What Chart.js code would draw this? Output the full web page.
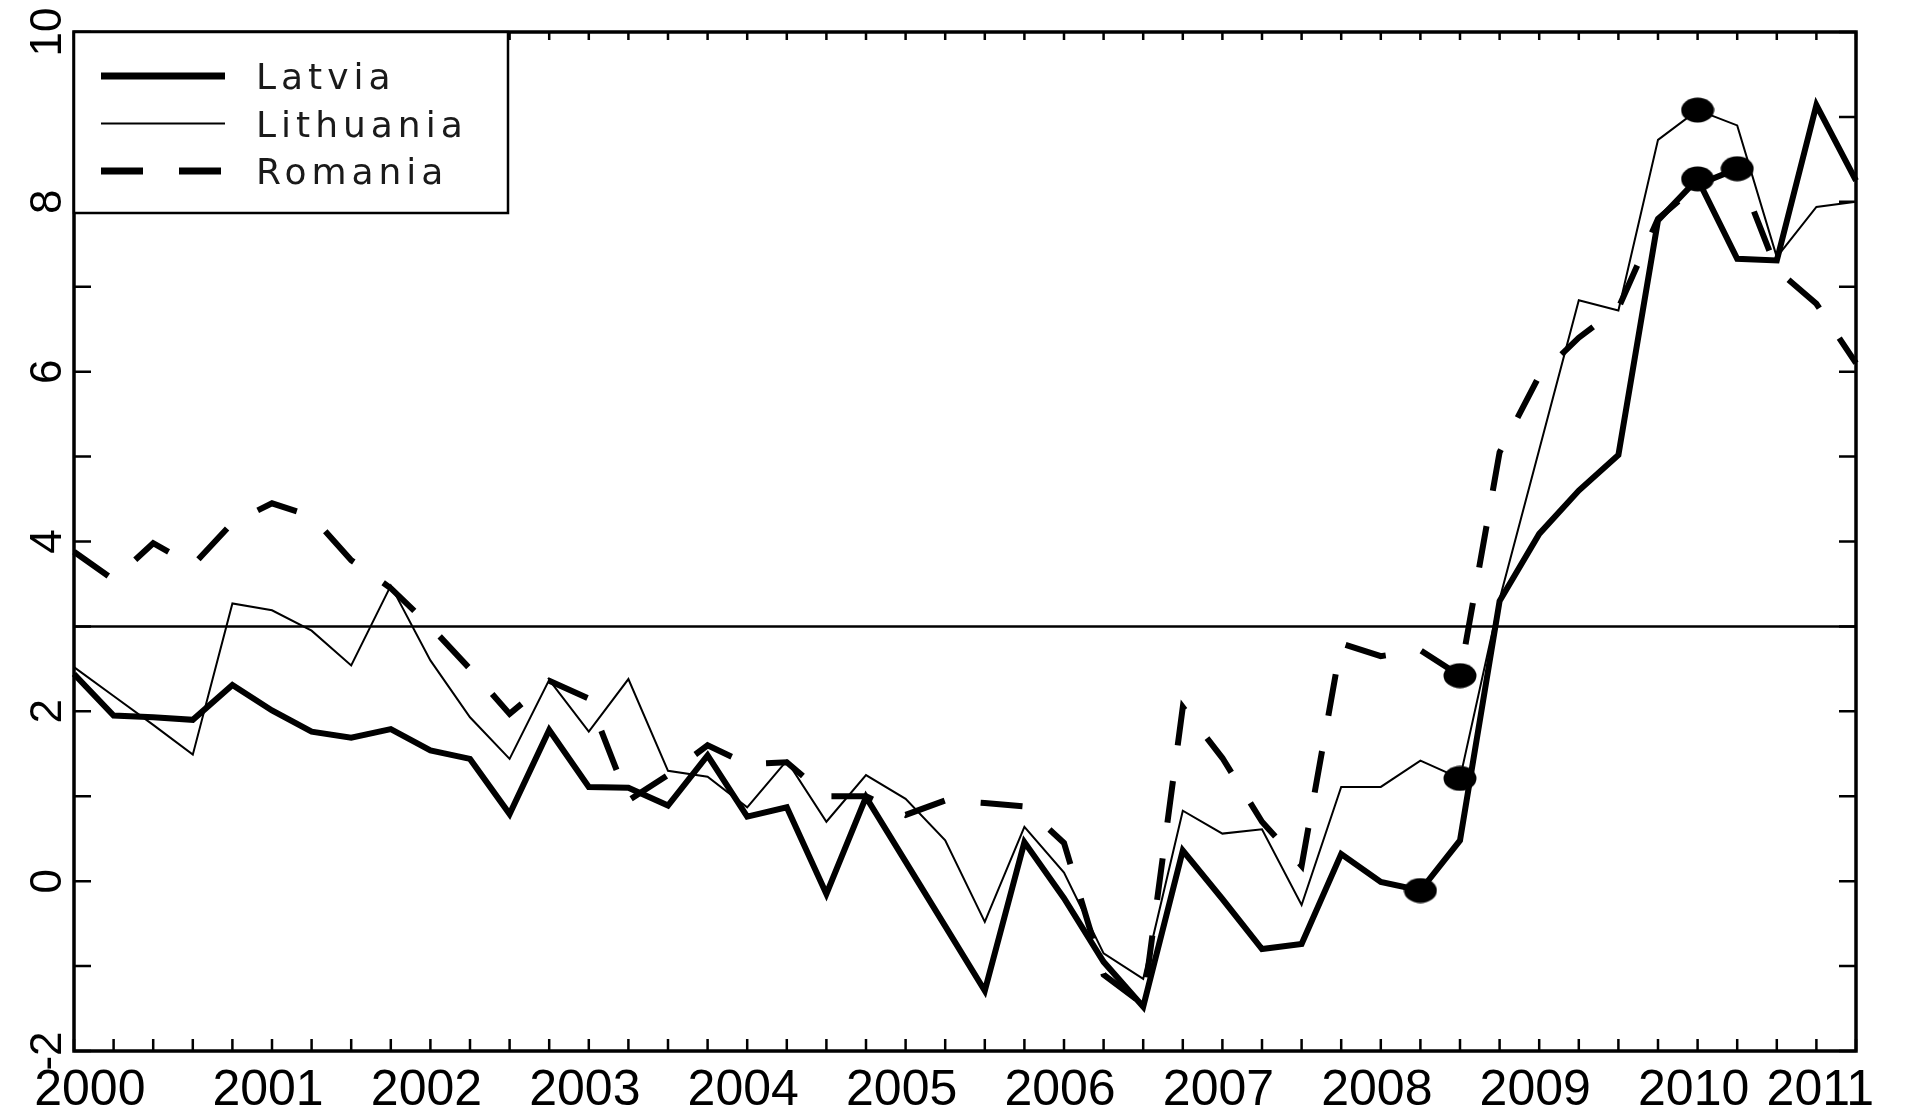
<!DOCTYPE html>
<html>
<head>
<meta charset="utf-8">
<script src="https://cdn.jsdelivr.net/npm/chart.js@4.4.0/dist/chart.umd.min.js"></script>
<style>
  html, body { margin: 0; padding: 0; background: #fff; }
  #wrap { width: 1929px; height: 1109px; position: relative; }
</style>
</head>
<body>
<div id="wrap"><canvas id="chart"></canvas></div>
<script>
"use strict";

// Quarters on the x axis (1999Q4 .. 2011Q1)
const quarters = [
    '1999Q4',
    '2000Q1', '2000Q2', '2000Q3', '2000Q4',
    '2001Q1', '2001Q2', '2001Q3', '2001Q4',
    '2002Q1', '2002Q2', '2002Q3', '2002Q4',
    '2003Q1', '2003Q2', '2003Q3', '2003Q4',
    '2004Q1', '2004Q2', '2004Q3', '2004Q4',
    '2005Q1', '2005Q2', '2005Q3', '2005Q4',
    '2006Q1', '2006Q2', '2006Q3', '2006Q4',
    '2007Q1', '2007Q2', '2007Q3', '2007Q4',
    '2008Q1', '2008Q2', '2008Q3', '2008Q4',
    '2009Q1', '2009Q2', '2009Q3', '2009Q4',
    '2010Q1', '2010Q2', '2010Q3', '2010Q4',
    '2011Q1'
];

// Year labels and where they sit (in quarter steps from the left edge)
const yearLabels = ['2000', '2001', '2002', '2003', '2004', '2005', '2006', '2007', '2008', '2009', '2010', '2011'];
const yearLabelPos = [0.4, 4.9, 8.9, 12.9, 16.9, 20.9, 24.9, 28.9, 32.9, 36.9, 40.9, 44.1];

// Series values
const latvia = [
    2.44, 1.95, 1.93, 1.90, 2.31, 2.01, 1.76, 1.69, 1.79, 1.54, 1.44, 0.79,
    1.78, 1.11, 1.10, 0.89, 1.48, 0.76, 0.87, -0.15, 0.99, 0.23, -0.53, -1.29,
    0.46, -0.20, -0.95, -1.48, 0.36, -0.21, -0.80, -0.74, 0.32, -0.01, -0.11, 0.48,
    3.30, 4.09, 4.60, 5.02, 7.78, 8.27, 7.33, 7.31, 9.14, 8.25
];
const lithuania = [
    2.52, 2.18, 1.84, 1.49, 3.27, 3.19, 2.95, 2.54, 3.48, 2.60, 1.93, 1.44,
    2.37, 1.76, 2.38, 1.30, 1.23, 0.87, 1.42, 0.70, 1.25, 0.97, 0.48, -0.48,
    0.64, 0.10, -0.85, -1.15, 0.83, 0.56, 0.61, -0.28, 1.11, 1.11, 1.42, 1.21,
    3.32, 5.08, 6.84, 6.72, 8.73, 9.08, 8.90, 7.35, 7.94, 8.00
];
const romania = [
    3.88, 3.55, 3.98, 3.72, 4.22, 4.45, 4.30, 3.78, 3.45, 3.00, 2.50, 1.97,
    2.36, 2.15, 0.95, 1.25, 1.60, 1.38, 1.40, 1.00, 1.00, 0.78, 0.95, 0.92,
    0.88, 0.45, -1.10, -1.45, 2.05, 1.45, 0.70, 0.18, 2.80, 2.65, 2.72, 2.42,
    5.05, 5.95, 6.40, 6.75, 7.80, 8.20, 8.39, 7.20, 6.80, 6.10
];

// Quarters marked with a filled dot
const latviaMarks = [34, 41];
const lithuaniaMarks = [35, 41];
const romaniaMarks = [35, 42];

// Horizontal reference line
const referenceLevel = 3;

// Y axis range
const yMin = -2;
const yMax = 10;

function makeDot(w, h) {
    const c = document.createElement('canvas');
    c.width = w;
    c.height = h;
    const g = c.getContext('2d');
    g.fillStyle = '#000';
    g.beginPath();
    g.ellipse(w / 2, h / 2, w / 2 - 0.5, h / 2 - 0.5, 0, 0, Math.PI * 2);
    g.fill();
    return c;
}
const dot = makeDot(34, 26);

function markRadius(marks) {
    return ctx => (marks.includes(ctx.dataIndex) ? 12 : 0);
}

// Frame, inner tick marks and reference line
const framePlugin = {
    id: 'frame',
    beforeDatasetsDraw(chart) {
        const { ctx, chartArea: a, scales } = chart;
        const y = scales.y.getPixelForValue(referenceLevel);
        ctx.save();
        ctx.strokeStyle = '#000';
        ctx.lineWidth = 2.5;
        ctx.beginPath();
        ctx.moveTo(a.left, y);
        ctx.lineTo(a.right, y);
        ctx.stroke();
        ctx.restore();
    },
    afterDatasetsDraw(chart) {
        const { ctx, chartArea: a, scales } = chart;
        ctx.save();
        ctx.strokeStyle = '#000';
        ctx.lineWidth = 2.5;
        ctx.beginPath();
        for (let i = 0; i < quarters.length; i++) {
            const x = scales.x.getPixelForValue(i);
            ctx.moveTo(x, a.bottom);
            ctx.lineTo(x, a.bottom - 12);
            ctx.moveTo(x, a.top);
            ctx.lineTo(x, a.top + 8);
        }
        for (let v = yMin; v <= yMax; v++) {
            const y = scales.y.getPixelForValue(v);
            ctx.moveTo(a.left, y);
            ctx.lineTo(a.left + 17, y);
            ctx.moveTo(a.right, y);
            ctx.lineTo(a.right - 17, y);
        }
        ctx.stroke();
        ctx.lineWidth = 3.5;
        ctx.strokeRect(a.left, a.top, a.right - a.left, a.bottom - a.top);
        ctx.restore();
    }
};

// Boxed legend in the top-left corner
const boxLegendPlugin = {
    id: 'boxLegend',
    afterDraw(chart) {
        const { ctx, chartArea: a } = chart;
        const boxW = 434;
        const boxH = 181;
        ctx.save();
        ctx.fillStyle = '#fff';
        ctx.fillRect(a.left, a.top, boxW, boxH);
        ctx.strokeStyle = '#000';
        ctx.lineWidth = 2.5;
        ctx.strokeRect(a.left, a.top, boxW, boxH);

        ctx.font = '36px "DejaVu Sans", sans-serif';
        ctx.letterSpacing = '5px';
        ctx.fillStyle = '#1a1a1a';
        ctx.textBaseline = 'alphabetic';
        chart.data.datasets.forEach((ds, i) => {
            const y = a.top + 44 + i * 47.5;
            ctx.beginPath();
            ctx.lineWidth = ds.legendWidth;
            ctx.setLineDash(ds.borderDash || []);
            ctx.moveTo(a.left + 27, y);
            ctx.lineTo(a.left + 151, y);
            ctx.stroke();
            ctx.setLineDash([]);
            ctx.fillText(ds.label, a.left + 182, y + 13);
        });
        ctx.restore();
    }
};

const ctx = document.getElementById('chart').getContext('2d');

Chart.defaults.font.family = '"Liberation Sans", Arial, sans-serif';
Chart.defaults.color = '#000';

new Chart(ctx, {
    type: 'line',
    data: {
        labels: quarters,
        datasets: [
            {
                label: 'Latvia',
                data: latvia,
                borderColor: '#000',
                borderWidth: 6,
                legendWidth: 7,
                pointStyle: dot,
                pointRadius: markRadius(latviaMarks),
                pointBackgroundColor: '#000',
                tension: 0
            },
            {
                label: 'Lithuania',
                data: lithuania,
                borderColor: '#000',
                borderWidth: 2,
                legendWidth: 2,
                pointStyle: dot,
                pointRadius: markRadius(lithuaniaMarks),
                pointBackgroundColor: '#000',
                tension: 0
            },
            {
                label: 'Romania',
                data: romania,
                borderColor: '#000',
                borderWidth: 6,
                legendWidth: 7,
                borderDash: [42, 36],
                pointStyle: dot,
                pointRadius: markRadius(romaniaMarks),
                pointBackgroundColor: '#000',
                tension: 0
            }
        ]
    },
    options: {
        responsive: true,
        maintainAspectRatio: false,
        animation: false,
        devicePixelRatio: 1,
        layout: {
            padding: { top: 32, right: 73, bottom: 0, left: 0 }
        },
        plugins: {
            legend: { display: false },
            tooltip: { enabled: false }
        },
        scales: {
            x: {
                type: 'category',
                offset: false,
                display: false
            },
            years: {
                type: 'linear',
                position: 'bottom',
                min: 0,
                max: quarters.length - 1,
                afterBuildTicks: s => {
                    s.ticks = yearLabelPos.map(v => ({ value: v }));
                },
                afterFit: s => { s.height = 58; },
                grid: { display: false, drawTicks: false },
                border: { display: false },
                ticks: {
                    autoSkip: false,
                    minRotation: 0,
                    maxRotation: 0,
                    padding: 10,
                    color: '#000',
                    font: { size: 50 },
                    callback: (value, index) => yearLabels[index]
                }
            },
            y: {
                min: yMin,
                max: yMax,
                afterFit: s => { s.width = 74; },
                grid: { display: false, drawTicks: false },
                border: { display: false },
                ticks: {
                    stepSize: 2,
                    minRotation: 90,
                    maxRotation: 90,
                    crossAlign: 'center',
                    padding: 1,
                    color: '#000',
                    font: { size: 44 }
                }
            }
        }
    },
    plugins: [framePlugin, boxLegendPlugin]
});
</script>
</body>
</html>
